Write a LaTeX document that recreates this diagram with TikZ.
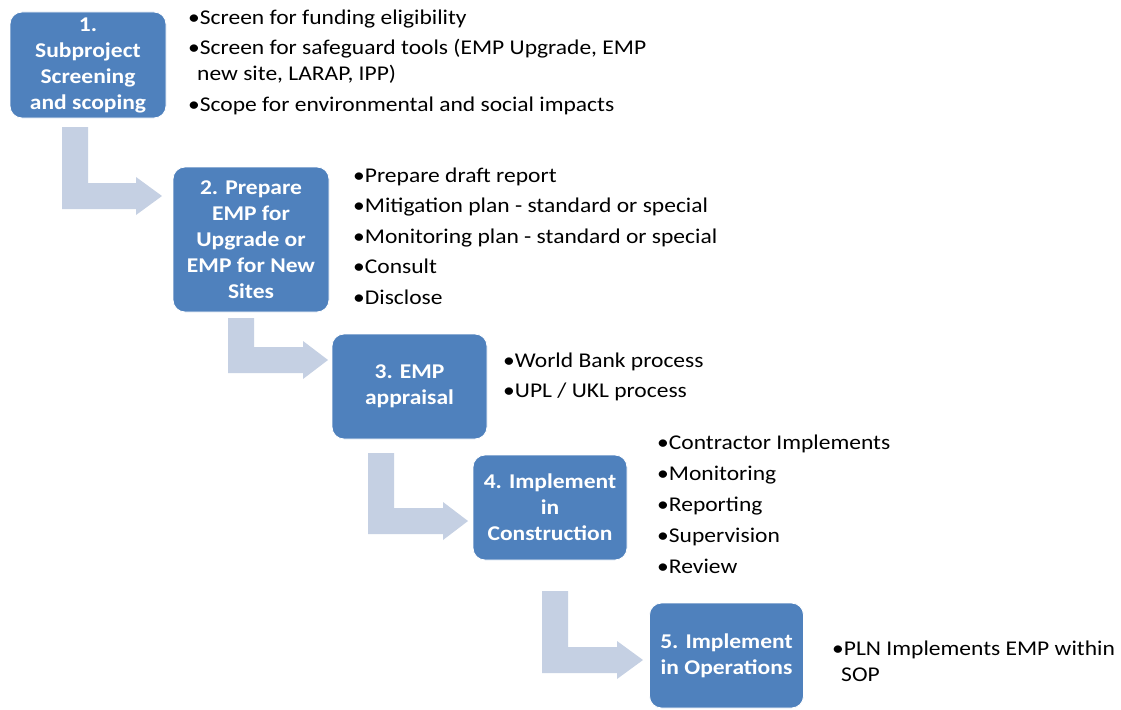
\documentclass[tikz,border=0pt]{standalone}
\usepackage{fontspec}
\setmainfont{Carlito}[FakeStretch=1.12]
\definecolor{boxblue}{HTML}{4F81BD}
\definecolor{arrowblue}{HTML}{C5D0E3}
\tikzset{
  stepbox/.style={fill=boxblue, draw=white, line width=0.8pt, rounded corners=12pt,
    inner sep=0pt, align=center, text=white,
    font=\fontsize{21}{26}\selectfont\bfseries},
  bul/.style={anchor=base west, inner sep=0pt, text=black,
    font=\fontsize{21}{24}\selectfont},
  bentarrow/.style={fill=arrowblue, draw=none}
}
% #1 x0, #2 top y, #3 bar top y, #4 head base x, #5 tip x
\newcommand\mybent[5]{%
  \fill[bentarrow] (#1,#2) -- ({#1+26},#2) -- ({#1+26},#3) -- (#4,#3) -- (#4,{#3-6})
    -- (#5,{#3+13}) -- (#4,{#3+32}) -- (#4,{#3+26}) -- (#1,{#3+26}) -- cycle;}
\begin{document}
\begin{tikzpicture}[x=1pt,y=-1pt]
\useasboundingbox (0,0) rectangle (1121,709);
\fill[white] (0,0) rectangle (1121,709);

% arrows
\mybent{62}{127}{183}{136}{162}
\mybent{228}{318}{347}{303}{328}
\mybent{368}{453}{508}{443}{468}
\mybent{542}{591}{647}{617}{643}

% boxes
\node[stepbox, minimum width=156pt, minimum height=106pt] (b1) at (88,65)
  {1.\\Subproject\\Screening\\and scoping};
\node[stepbox, minimum width=156pt, minimum height=145pt] (b2) at (251,239.5)
  {2. Prepare\\EMP for\\Upgrade or\\EMP for New\\Sites};
\node[stepbox, minimum width=155pt, minimum height=105pt] (b3) at (409.5,386.5)
  {3. EMP\\appraisal};
\node[stepbox, minimum width=154pt, minimum height=105pt] (b4) at (550,507.5)
  {4. Implement\\in\\Construction};
\node[stepbox, minimum width=154pt, minimum height=105pt] (b5) at (726.5,655.5)
  {5. Implement\\in Operations};

% bullets 1
\node[bul] (t1a) at (188,25) {•Screen for funding eligibility};
\node[bul] (t1b) at (188,55) {•Screen for safeguard tools (EMP Upgrade, EMP};
\node[bul] (t1c) at (197,81) {new site, LARAP, IPP)};
\node[bul] (t1d) at (188,111) {•Scope for environmental and social impacts};

% bullets 2
\node[bul] (t2a) at (353,182) {•Prepare draft report};
\node[bul] (t2b) at (353,212.5) {•Mitigation plan - standard or special};
\node[bul] (t2c) at (353,243) {•Monitoring plan - standard or special};
\node[bul] (t2d) at (353,273.5) {•Consult};
\node[bul] (t2e) at (353,304) {•Disclose};

% bullets 3
\node[bul] (t3a) at (503,367) {•World Bank process};
\node[bul] (t3b) at (503,397) {•UPL / UKL process};

% bullets 4
\node[bul] (t4a) at (657,449) {•Contractor Implements};
\node[bul] (t4b) at (657,480) {•Monitoring};
\node[bul] (t4c) at (657,511) {•Reporting};
\node[bul] (t4d) at (657,542) {•Supervision};
\node[bul] (t4e) at (657,573) {•Review};

% bullets 5
\node[bul] (t5a) at (832,655) {•PLN Implements EMP within};
\node[bul] (t5b) at (841,681) {SOP};
\end{tikzpicture}
\end{document}
